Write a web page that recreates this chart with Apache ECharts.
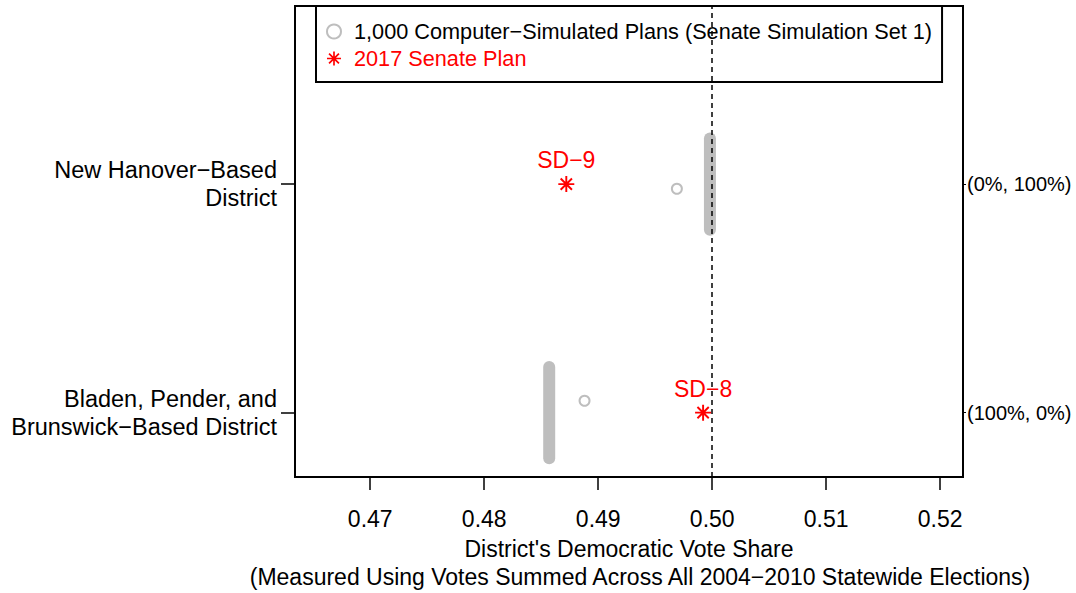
<!DOCTYPE html>
<html>
<head>
<meta charset="utf-8">
<script src="https://cdn.jsdelivr.net/npm/echarts@6/dist/echarts.min.js"></script>
<style>html,body{margin:0;padding:0;background:#fff;}#c{width:1076px;height:593px;}</style>
</head>
<body>
<div id="c"></div>
<script>
// ---- data ----
const districts = ['New Hanover\u2212Based\nDistrict', 'Bladen, Pender, and\nBrunswick\u2212Based District'];
const outcomeLabels = ['(0%, 100%)', '(100%, 0%)'];
const simulatedShare = [0.4998, 0.4857];      // dense cluster of the 1,000 simulated plans
const simulatedSpread = [0.2, 0.2];           // vertical jitter half-range of the cluster
const simulatedOutlier = [0.4969, 0.4888];    // lone simulated plan outside the cluster
const outlierJitter = [-0.02, 0.052];         // its vertical jitter
const enactedShare = [0.4872, 0.4992];        // 2017 Senate Plan
const enactedLabels = ['SD\u22129', 'SD\u22128'];
const xTicks = [0.47, 0.48, 0.49, 0.50, 0.51, 0.52];
const threshold = [0.50];

const simName = '1,000 Computer\u2212Simulated Plans (Senate Simulation Set 1)';
const planName = '2017 Senate Plan';
const FONT = '"Liberation Sans", Arial, Helvetica, sans-serif';
const GRAY = '#bebebe';
const RED = '#ff0000';
const STAR = 'path://M0,44L100,44L100,56L0,56Z M44,0L56,0L56,100L44,100Z M18.9,10.4L89.6,81.1L81.1,89.6L10.4,18.9Z M81.1,10.4L89.6,18.9L18.9,89.6L10.4,81.1Z';

const n = districts.length;
const yOf = i => n - 1 - i;   // top district drawn at the top

const bandSeries = districts.map((d, i) => ({
  type: 'line',
  name: 'band' + i,
  data: [[simulatedShare[i], yOf(i) - simulatedSpread[i]], [simulatedShare[i], yOf(i) + simulatedSpread[i]]],
  showSymbol: false,
  symbol: 'none',
  lineStyle: { color: GRAY, width: 12, cap: 'round' },
  silent: true,
  z: 2
}));

const chart = echarts.init(document.getElementById('c'), null, { renderer: 'svg' });
chart.setOption({
  animation: false,
  backgroundColor: '#fff',
  textStyle: { fontFamily: FONT },
  grid: { left: 295, right: 113, top: 6, bottom: 116, show: true, borderColor: '#000', borderWidth: 2, backgroundColor: 'transparent' },
  legend: {
    left: 316, top: 6,
    orient: 'vertical',
    borderColor: '#000', borderWidth: 2,
    padding: [12, 10, 10, 10],
    itemGap: 0,
    itemWidth: 14, itemHeight: 14,
    selectedMode: false,
    textStyle: { fontFamily: FONT, fontSize: 21.7, lineHeight: 27, color: '#000', padding: [0, 0, 0, 8] },
    data: [
      { name: simName, icon: 'circle', itemStyle: { color: '#fff', borderColor: GRAY, borderWidth: 2 }, textStyle: { color: '#000' } },
      { name: planName, icon: STAR, itemStyle: { color: RED, borderWidth: 0 }, textStyle: { color: RED } }
    ]
  },
  xAxis: {
    type: 'value', min: 0.4634, max: 0.5220,
    axisLine: { show: false, onZero: false },
    splitLine: { show: false },
    axisTick: { show: true, customValues: xTicks, length: 13, lineStyle: { color: '#000', width: 1.5 } },
    axisLabel: { customValues: xTicks, formatter: v => v.toFixed(2), margin: 30, fontSize: 23, color: '#000', fontFamily: FONT }
  },
  yAxis: [
    {
      type: 'value', min: -0.2817, max: 1.7795, position: 'left',
      axisLine: { show: false, onZero: false }, splitLine: { show: false },
      axisTick: { show: true, customValues: districts.map((d, i) => yOf(i)), length: 14, lineStyle: { color: '#000', width: 1.5 } },
      axisLabel: { customValues: districts.map((d, i) => yOf(i)), formatter: v => districts[n - 1 - Math.round(v)], margin: 18, fontSize: 23.5, lineHeight: 28, color: '#000', fontFamily: FONT, align: 'right' }
    },
    {
      type: 'value', min: -0.2817, max: 1.7795, position: 'right',
      axisLine: { show: false, onZero: false }, splitLine: { show: false },
      axisTick: { show: true, customValues: districts.map((d, i) => yOf(i)), length: 3, lineStyle: { color: '#000', width: 1 } },
      axisLabel: { customValues: districts.map((d, i) => yOf(i)), formatter: v => outcomeLabels[n - 1 - Math.round(v)], margin: 4, fontSize: 20, color: '#000', fontFamily: FONT }
    }
  ],
  series: bandSeries.concat([
    {
      type: 'scatter', name: simName,
      data: districts.map((d, i) => [simulatedOutlier[i], yOf(i) + outlierJitter[i]]),
      symbol: 'circle', symbolSize: 10,
      itemStyle: { color: '#fff', borderColor: GRAY, borderWidth: 2, opacity: 1 },
      z: 3
    },
    {
      type: 'line', name: 'threshold', data: [], z: 4,
      markLine: {
        silent: true, symbol: ['none', 'none'], label: { show: false },
        lineStyle: { color: '#000', type: [5, 4], width: 1.5 },
        data: threshold.map(t => ({ xAxis: t }))
      }
    },
    {
      type: 'scatter', name: planName,
      data: districts.map((d, i) => [enactedShare[i], yOf(i)]),
      symbol: STAR, symbolSize: 16,
      itemStyle: { color: RED, opacity: 1 },
      label: {
        show: true, position: 'inside', offset: [0, -24],
        formatter: p => enactedLabels[p.dataIndex],
        color: RED, fontSize: 23, fontFamily: FONT
      },
      z: 5
    }
  ]),
  graphic: [
    { type: 'text', style: { text: "District's Democratic Vote Share", font: '23px ' + FONT, fill: '#000', textAlign: 'center', textVerticalAlign: 'middle', x: 629, y: 549 } },
    { type: 'text', style: { text: '(Measured Using Votes Summed Across All 2004\u22122010 Statewide Elections)', font: '23px ' + FONT, fill: '#000', textAlign: 'center', textVerticalAlign: 'middle', x: 640, y: 577 } }
  ]
});
</script>
</body>
</html>
